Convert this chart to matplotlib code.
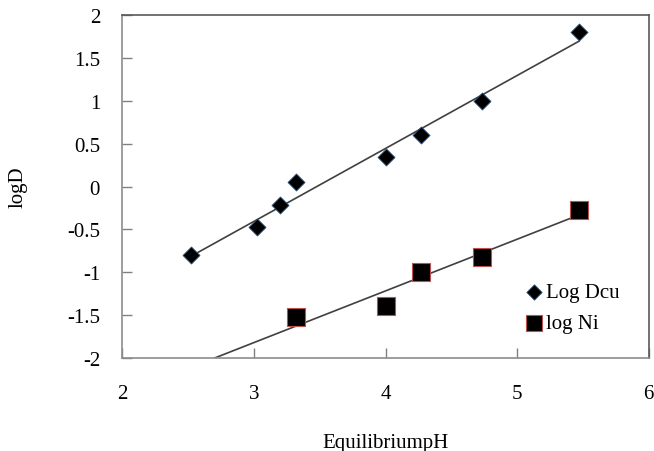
import numpy as np
import matplotlib
matplotlib.use("Agg")
import matplotlib.pyplot as plt

# Log D(Cu) vs equilibrium pH
ph_cu = [2.52, 3.02, 3.20, 3.32, 4.00, 4.27, 4.73, 5.47]
logd_cu = [-0.80, -0.47, -0.22, 0.05, 0.35, 0.60, 1.00, 1.80]

# log D(Ni) vs equilibrium pH
ph_ni = [3.32, 4.00, 4.27, 4.73, 5.47]
logd_ni = [-1.52, -1.40, -1.00, -0.82, -0.27]

x_ticks = [2, 3, 4, 5, 6]
y_ticks = [-2, -1.5, -1, -0.5, 0, 0.5, 1, 1.5, 2]
y_tick_labels = ["-2", "-1.5", "-1", "-0.5", "0", "0.5", "1", "1.5", "2"]

plt.rcParams["font.family"] = ["Liberation Serif", "DejaVu Serif"]

fig = plt.figure(figsize=(6.54, 4.52), dpi=100)
ax = fig.add_axes([0.187, 0.206, 0.805, 0.758])

# linear trend lines (least squares, like Excel trendlines)
k_cu, b_cu = np.polyfit(ph_cu, logd_cu, 1)
xs = np.array([min(ph_cu), max(ph_cu)])
ax.plot(xs, k_cu * xs + b_cu, color="#404040", lw=1.2, zorder=1)

k_ni, b_ni = np.polyfit(ph_ni, logd_ni, 1)
xs = np.array([2.0, max(ph_ni)])
ax.plot(xs, k_ni * xs + b_ni, color="#404040", lw=1.2, zorder=1)

ax.scatter(ph_cu, logd_cu, marker="D", s=75, color="black",
           edgecolors="#2b4f7a", linewidths=0.6, zorder=3, label="Log Dcu")
ax.scatter(ph_ni, logd_ni, marker="s", s=170, color="black",
           edgecolors="#c0504d", linewidths=0.8, zorder=3, label="log Ni")

ax.set_xlim(2, 6)
ax.set_ylim(-2, 2)
ax.set_xticks(x_ticks)
ax.set_yticks(y_ticks)
ax.set_yticklabels(y_tick_labels)

ax.tick_params(axis="both", direction="in", length=7, width=1, color="#808080",
               labelsize=15)
ax.tick_params(axis="x", pad=19)
ax.tick_params(axis="y", pad=16)

for side in ["left", "bottom"]:
    ax.spines[side].set_color("#8c8c8c")
for side in ["top", "right"]:
    ax.spines[side].set_color("#595959")
for s in ax.spines.values():
    s.set_linewidth(1.2)

ax.set_xlabel("EquilibriumpH", fontsize=15)
ax.set_ylabel("logD", fontsize=15)
ax.xaxis.set_label_coords(0.5, -0.218)
ax.yaxis.set_label_coords(-0.18, 0.5)

ax.legend(loc="lower right", bbox_to_anchor=(0.945, 0.072), frameon=False,
          fontsize=15, borderpad=0, borderaxespad=0, handlelength=0.9,
          handletextpad=0.15, labelspacing=0.55, markerscale=0.9)

fig.savefig("out.png", dpi=100)
